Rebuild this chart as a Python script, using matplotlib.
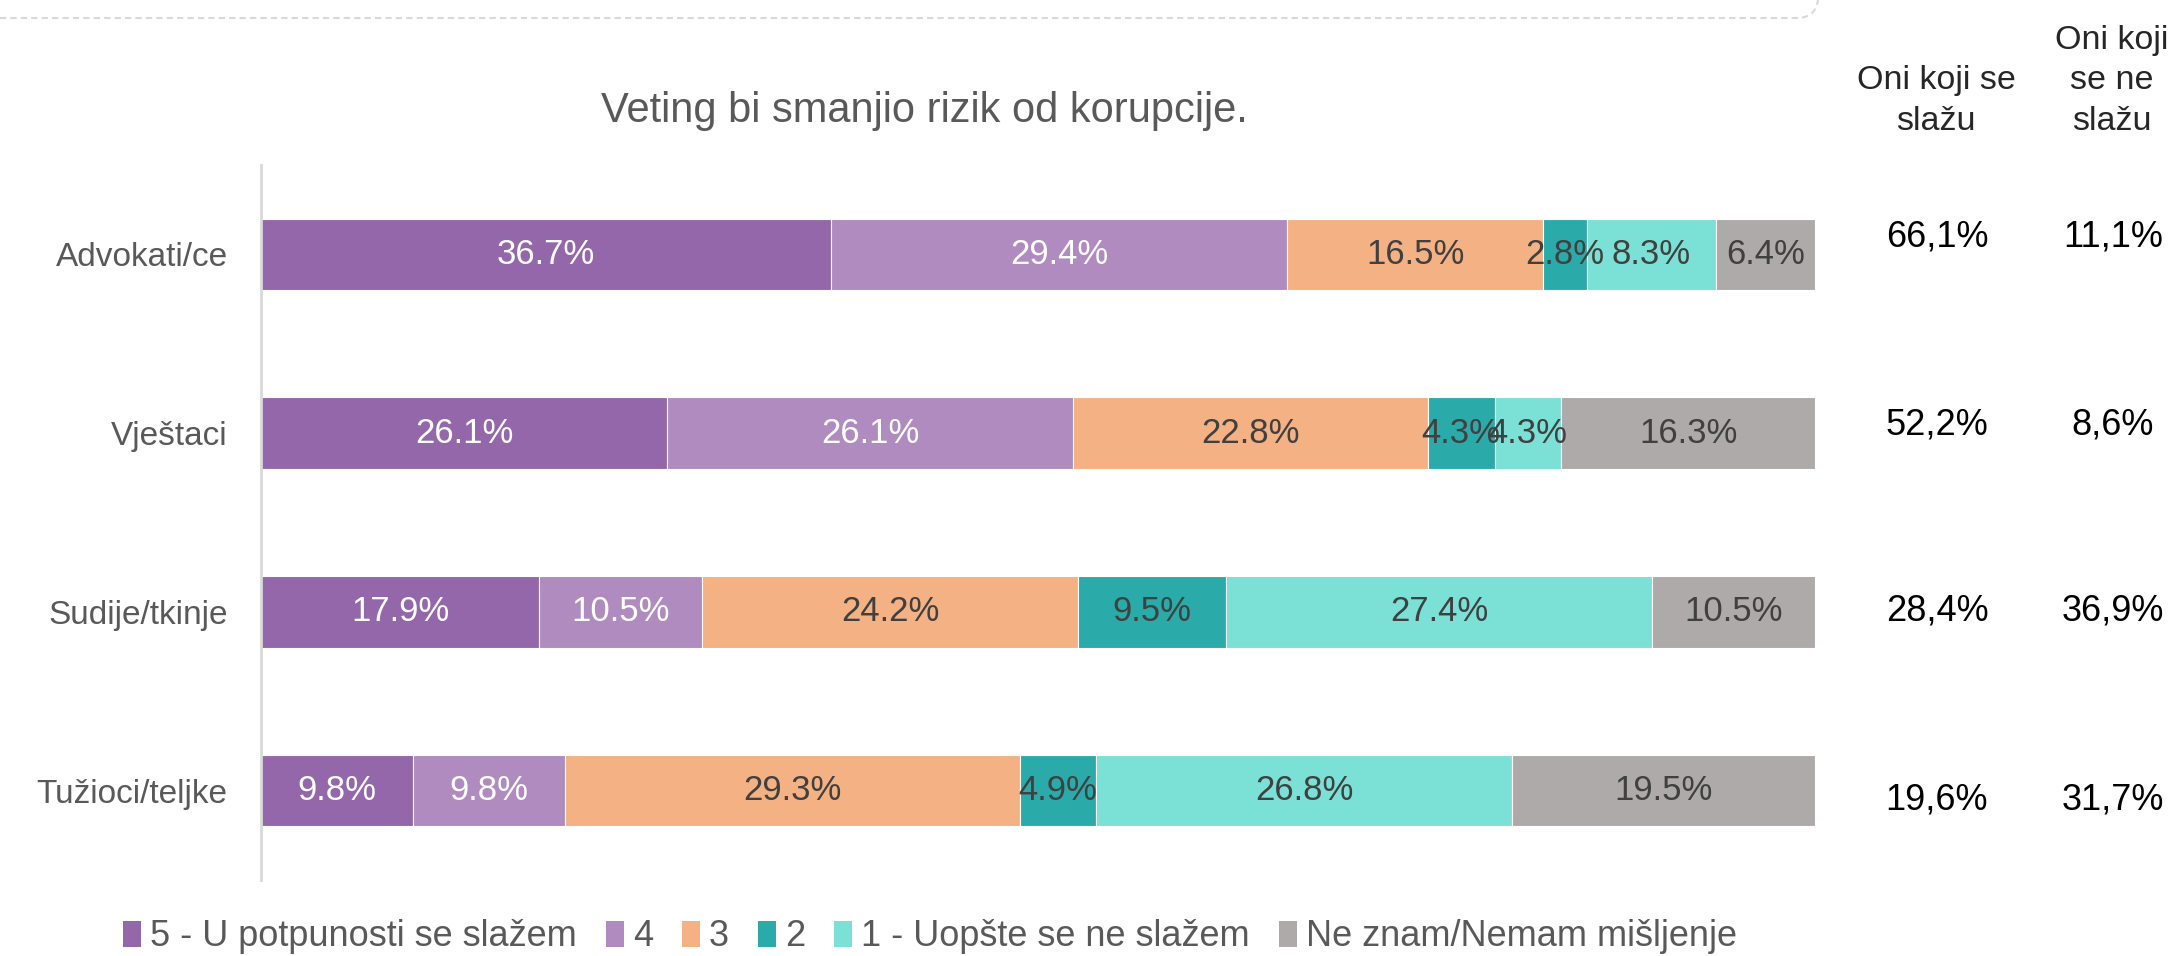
import matplotlib
matplotlib.use("Agg")
import matplotlib.pyplot as plt
from matplotlib.patches import Patch, PathPatch
from matplotlib.path import Path
import numpy as np

plt.rcParams['font.family'] = ['Liberation Sans', 'DejaVu Sans']

categories = ['Advokati/ce', 'Vještaci', 'Sudije/tkinje', 'Tužioci/teljke']
series_names = ['5 - U potpunosti se slažem', '4', '3', '2',
                '1 - Uopšte se ne slažem', 'Ne znam/Nemam mišljenje']
s5 = [36.7, 26.1, 17.9, 9.8]
s4 = [29.4, 26.1, 10.5, 9.8]
s3 = [16.5, 22.8, 24.2, 29.3]
s2 = [2.8, 4.3, 9.5, 4.9]
s1 = [8.3, 4.3, 27.4, 26.8]
s0 = [6.4, 16.3, 10.5, 19.5]
agree = ['66,1%', '52,2%', '28,4%', '19,6%']
disagree = ['11,1%', '8,6%', '36,9%', '31,7%']
title = 'Veting bi smanjio rizik od korupcije.'
header_agree = 'Oni koji se\nslažu'
header_disagree = 'Oni koji\nse ne\nslažu'

colors = ['#9467AB', '#B08BC0', '#F4B183', '#2AABA9', '#7BE0D5', '#AEAAAA']
label_colors = ['white', 'white', '#404040', '#404040', '#404040', '#404040']

W, H = 2176, 956
fig = plt.figure(figsize=(W / 100, H / 100), dpi=100)
ax = fig.add_axes([261 / W, 1 - 880 / H, (1815 - 261) / W, (880 - 165) / H])

data = np.array([s5, s4, s3, s2, s1, s0])
totals = data.sum(axis=0)
widths = data / totals * 100
y = np.arange(len(categories))
left = np.zeros(len(categories))
for i in range(len(series_names)):
    ax.barh(y, widths[i], left=left, height=0.4, color=colors[i],
            edgecolor='white', linewidth=0.8, label=series_names[i])
    for j in range(len(categories)):
        ax.text(left[j] + widths[i][j] / 2, y[j], f'{data[i][j]:.1f}%',
                ha='center', va='center', fontsize=25, color=label_colors[i])
    left += widths[i]

ax.set_xlim(0, 100)
ax.set_ylim(3.5, -0.5)
ax.set_yticks(y)
ax.set_yticklabels(categories, fontsize=24, color='#595959')
ax.tick_params(axis='y', length=0, pad=24)
ax.set_xticks([])
for s in ['top', 'right', 'bottom']:
    ax.spines[s].set_visible(False)
ax.spines['left'].set_color('#D9D9D9')
ax.spines['left'].set_linewidth(2)

# title
fig.text(924 / W, 1 - 111 / H, title, ha='center', va='center',
         fontsize=30, color='#595959')

# right columns
fig.text(1936 / W, 1 - 130 / H, header_agree, ha='center', va='baseline',
         fontsize=24.5, color='#262626', linespacing=1.4)
fig.text(2112 / W, 1 - 130 / H, header_disagree, ha='center', va='baseline',
         fontsize=24.5, color='#262626', linespacing=1.4)
val_y = [237, 425, 611, 800]
for j in range(len(categories)):
    fig.text(1937 / W, 1 - val_y[j] / H, agree[j], ha='center', va='center',
             fontsize=26, color='black')
    fig.text(2113 / W, 1 - val_y[j] / H, disagree[j], ha='center', va='center',
             fontsize=26, color='black')

# legend
handles = [Patch(facecolor=c, edgecolor='none') for c in colors]
fig.legend(handles, series_names, loc='center', ncol=6, frameon=False,
           bbox_to_anchor=(930 / W, 1 - 937 / H), fontsize=26,
           labelcolor='#595959', handlelength=0.5, handleheight=0.7,
           handletextpad=0.25, columnspacing=0.8)

# dashed border at top
verts = [(0, H - 18), (1800, H - 18), (1816, H - 16), (1818, H)]
codes = [Path.MOVETO, Path.LINETO, Path.CURVE3, Path.CURVE3]
pp = PathPatch(Path(verts, codes), facecolor='none', edgecolor='#D9D9D9',
               linewidth=1.5, linestyle=(0, (3, 2)), transform=None)
fig.add_artist(pp)

fig.savefig('out.png', dpi=100)
